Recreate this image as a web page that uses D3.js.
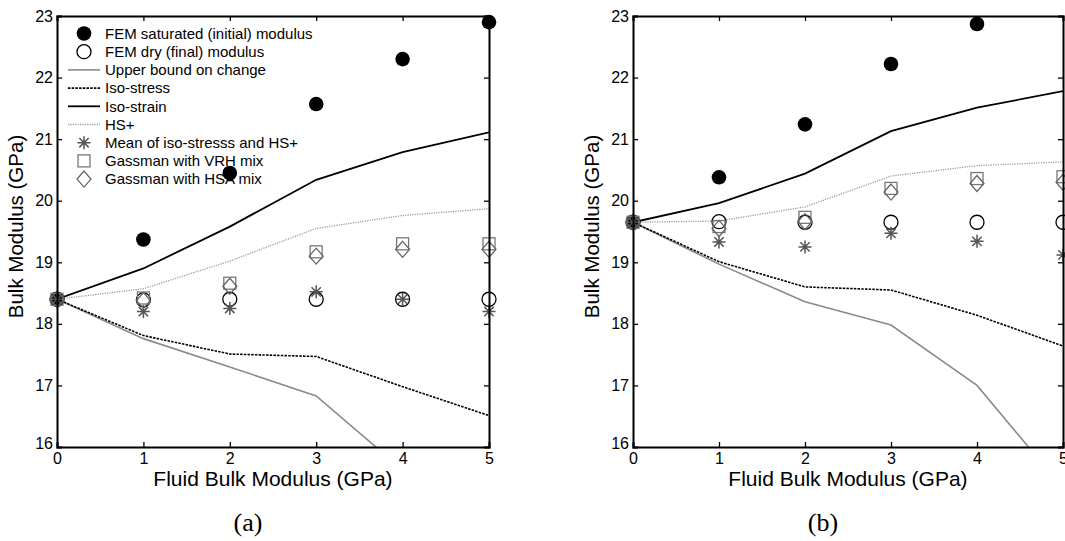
<!DOCTYPE html>
<html>
<head>
<meta charset="utf-8">
<script src="https://cdn.jsdelivr.net/npm/d3@7"></script>
<style>
  body { margin: 0; background: #fff; }
  svg { display: block; font-family: Arial, "Liberation Sans", sans-serif; }
</style>
</head>
<body>
<div id="chart"></div>
<script>
// eixo x comum
const fluidK = [0, 1, 2, 3, 4, 5];
const xTicks = [0, 1, 2, 3, 4, 5];
const yTicks = [16, 17, 18, 19, 20, 21, 22, 23];

// painel (a)
const satA = [18.4, 19.37, 20.45, 21.57, 22.3, 22.9];
const dryA = [18.4, 18.39, 18.4, 18.4, 18.4, 18.4];
const upperA = [18.4, 17.76, 17.3, 16.83, 15.63, 14.4];
const isoStressA = [18.4, 17.81, 17.51, 17.47, 16.98, 16.51];
const isoStrainA = [18.4, 18.9, 19.58, 20.34, 20.79, 21.11];
const hsPlusA = [18.4, 18.57, 19.02, 19.55, 19.76, 19.87];
const meanA = [18.4, 18.2, 18.25, 18.52, 18.4, 18.2];
const vrhA = [18.4, 18.42, 18.66, 19.17, 19.3, 19.3];
const hsaA = [18.4, 18.38, 18.61, 19.1, 19.21, 19.21];

// painel (b)
const satB = [19.65, 20.38, 21.24, 22.22, 22.87, 23.45];
const dryB = [19.65, 19.66, 19.65, 19.65, 19.65, 19.65];
const upperB = [19.65, 18.97, 18.36, 17.98, 17.0, 15.33];
const isoStressB = [19.65, 19.01, 18.6, 18.55, 18.14, 17.64];
const isoStrainB = [19.65, 19.96, 20.44, 21.13, 21.51, 21.78];
const hsPlusB = [19.65, 19.67, 19.9, 20.4, 20.57, 20.63];
const meanB = [19.65, 19.33, 19.25, 19.47, 19.34, 19.12];
const vrhB = [19.65, 19.58, 19.73, 20.2, 20.36, 20.39];
const hsaB = [19.65, 19.55, 19.66, 20.14, 20.28, 20.3];

const legendLabels = [
  "FEM saturated (initial) modulus",
  "FEM dry (final) modulus",
  "Upper bound on change",
  "Iso-stress",
  "Iso-strain",
  "HS+",
  "Mean of iso-stresss and HS+",
  "Gassman with VRH mix",
  "Gassman with HSA mix"
];

const W = 1065, H = 541;
const svg = d3.select("#chart").append("svg")
  .attr("width", W).attr("height", H);

// estilos das series
const lineStyles = {
  upper: { stroke: "#8a8a8a", width: 1.6, dash: null },
  stress: { stroke: "#000", width: 1.6, dash: "2.5,1.2" },
  strain: { stroke: "#000", width: 1.8, dash: null },
  hs: { stroke: "#9a9a9a", width: 1.3, dash: "1.2,1.2" }
};

function drawMarker(g, type, x, y) {
  if (type === "sat") {
    g.append("circle").attr("cx", x).attr("cy", y).attr("r", 7.3).attr("fill", "#000");
  } else if (type === "dry") {
    g.append("circle").attr("cx", x).attr("cy", y).attr("r", 7)
      .attr("fill", "none").attr("stroke", "#000").attr("stroke-width", 1.3);
  } else if (type === "mean") {
    const s = 6.5, d = s * 0.72;
    g.append("path")
      .attr("d", `M${x - s},${y}L${x + s},${y}M${x},${y - s}L${x},${y + s}` +
        `M${x - d},${y - d}L${x + d},${y + d}M${x - d},${y + d}L${x + d},${y - d}`)
      .attr("stroke", "#555").attr("stroke-width", 1.5).attr("fill", "none");
  } else if (type === "vrh") {
    g.append("rect").attr("x", x - 6).attr("y", y - 6).attr("width", 12).attr("height", 12)
      .attr("fill", "none").attr("stroke", "#777").attr("stroke-width", 1.3);
  } else if (type === "hsa") {
    g.append("path")
      .attr("d", `M${x},${y - 8}L${x + 7},${y}L${x},${y + 8}L${x - 7},${y}Z`)
      .attr("fill", "none").attr("stroke", "#666").attr("stroke-width", 1.3);
  }
}

function drawPanel(left, top, w, h, s, id, caption, withLegend) {
  const g = svg.append("g");
  const x = d3.scaleLinear().domain([0, 5]).range([left, left + w]);
  const y = d3.scaleLinear().domain([16, 23]).range([top + h, top]);

  g.append("clipPath").attr("id", "clip" + id)
    .append("rect").attr("x", left).attr("y", top).attr("width", w).attr("height", h);

  // linhas
  const line = d3.line().x((d, i) => x(fluidK[i])).y(d => y(d));
  [["upper", s.upper], ["stress", s.stress], ["strain", s.strain], ["hs", s.hs]].forEach(([k, vals]) => {
    const st = lineStyles[k];
    g.append("path").datum(vals)
      .attr("clip-path", `url(#clip${id})`)
      .attr("fill", "none").attr("stroke", st.stroke)
      .attr("stroke-width", st.width)
      .attr("stroke-dasharray", st.dash)
      .attr("d", line);
  });

  // marcadores, na ordem da legenda
  [["sat", s.sat], ["dry", s.dry], ["mean", s.mean], ["vrh", s.vrh], ["hsa", s.hsa]].forEach(([k, vals]) => {
    vals.forEach((v, i) => {
      if (v > 23 || v < 16) return;
      drawMarker(g, k, x(fluidK[i]), y(v));
    });
  });

  // eixos com ticks para dentro
  const axB = g.append("g").attr("transform", `translate(0,${top + h})`)
    .call(d3.axisBottom(x).tickValues(xTicks).tickSize(-5).tickPadding(6).tickFormat(d3.format("d")));
  const axT = g.append("g").attr("transform", `translate(0,${top})`)
    .call(d3.axisTop(x).tickValues(xTicks).tickSize(-5).tickFormat(""));
  const axL = g.append("g").attr("transform", `translate(${left},0)`)
    .call(d3.axisLeft(y).tickValues(yTicks).tickSize(-5).tickPadding(4).tickFormat(d3.format("d")));
  const axR = g.append("g").attr("transform", `translate(${left + w},0)`)
    .call(d3.axisRight(y).tickValues(yTicks).tickSize(-5).tickFormat(""));
  [axB, axT, axL, axR].forEach(a => {
    a.select(".domain").attr("stroke", "#000").attr("stroke-width", 2);
    a.selectAll(".tick line").attr("stroke", "#000").attr("stroke-width", 1.3);
    a.selectAll("text").attr("font-size", 16).attr("fill", "#000")
      .attr("font-family", "Arial, 'Liberation Sans', sans-serif");
  });
  // "16" e "0" no canto como no matlab
  axB.selectAll("text").attr("dy", "0.71em");
  axL.selectAll(".tick").filter(d => d === 16).select("text").attr("dy", "0.1em");

  // rotulos dos eixos
  g.append("text")
    .attr("x", left + w / 2).attr("y", top + h + 39)
    .attr("text-anchor", "middle").attr("font-size", 21)
    .text("Fluid Bulk Modulus (GPa)");
  g.append("text")
    .attr("transform", `translate(${left - 34},${top + h / 2 - 5}) rotate(-90)`)
    .attr("text-anchor", "middle").attr("font-size", 20.5)
    .text("Bulk Modulus (GPa)");
  g.append("text")
    .attr("x", left + w / 2 - 25).attr("y", top + h + 84)
    .attr("text-anchor", "middle").attr("font-size", 26)
    .attr("font-family", "'Liberation Serif', 'Times New Roman', serif")
    .text(caption);

  if (withLegend) {
    const lg = g.append("g");
    const keys = ["sat", "dry", "upper", "stress", "strain", "hs", "mean", "vrh", "hsa"];
    keys.forEach((k, i) => {
      const cy = top + 17.5 + i * 18.2;
      if (lineStyles[k]) {
        const st = lineStyles[k];
        lg.append("line").attr("x1", left + 11).attr("x2", left + 43)
          .attr("y1", cy).attr("y2", cy)
          .attr("stroke", st.stroke).attr("stroke-width", st.width)
          .attr("stroke-dasharray", st.dash);
      } else {
        drawMarker(lg, k, left + 27, cy);
      }
      lg.append("text").attr("x", left + 48).attr("y", cy).attr("dy", "0.35em")
        .attr("font-size", 15).attr("fill", "#000")
        .text(legendLabels[i]);
    });
  }
}

drawPanel(57, 16, 432, 431, {
  sat: satA, dry: dryA, upper: upperA, stress: isoStressA, strain: isoStrainA,
  hs: hsPlusA, mean: meanA, vrh: vrhA, hsa: hsaA
}, "a", "(a)", true);

drawPanel(633, 16, 430, 431, {
  sat: satB, dry: dryB, upper: upperB, stress: isoStressB, strain: isoStrainB,
  hs: hsPlusB, mean: meanB, vrh: vrhB, hsa: hsaB
}, "b", "(b)", false);
</script>
</body>
</html>
